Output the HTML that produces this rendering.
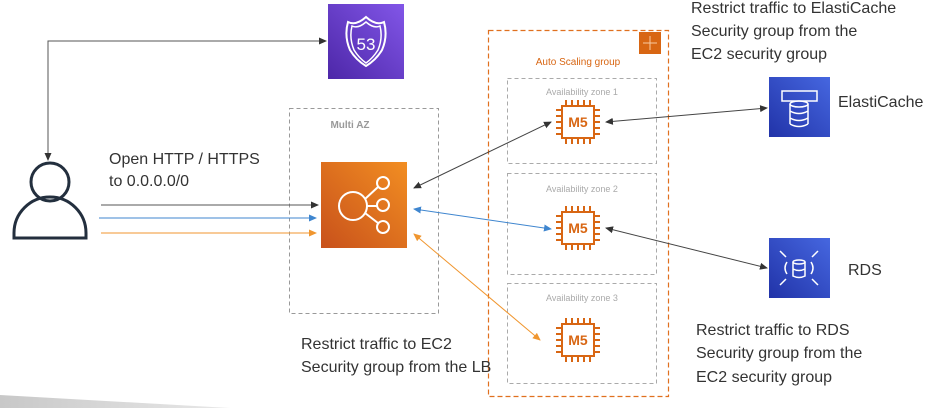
<!DOCTYPE html>
<html><head><meta charset="utf-8"><style>
body{margin:0;background:#fff;}
svg{display:block;font-family:"Liberation Sans",sans-serif;}
</style></head><body>
<svg width="929" height="408" viewBox="0 0 929 408" xmlns="http://www.w3.org/2000/svg">
<defs>
<marker id="ad" markerWidth="8" markerHeight="8" refX="7" refY="4" orient="auto" markerUnits="userSpaceOnUse"><path d="M0,0.5 L8,4 L0,7.5z" fill="#333"/></marker>
<marker id="ab" markerWidth="8" markerHeight="8" refX="7" refY="4" orient="auto" markerUnits="userSpaceOnUse"><path d="M0,0.5 L8,4 L0,7.5z" fill="#3f86cf"/></marker>
<marker id="ao" markerWidth="8" markerHeight="8" refX="7" refY="4" orient="auto" markerUnits="userSpaceOnUse"><path d="M0,0.5 L8,4 L0,7.5z" fill="#f0962f"/></marker>
<marker id="sd" markerWidth="8" markerHeight="8" refX="1" refY="4" orient="auto" markerUnits="userSpaceOnUse"><path d="M8,0.5 L0,4 L8,7.5z" fill="#333"/></marker>
<marker id="sb" markerWidth="8" markerHeight="8" refX="1" refY="4" orient="auto" markerUnits="userSpaceOnUse"><path d="M8,0.5 L0,4 L8,7.5z" fill="#3f86cf"/></marker>
<marker id="so" markerWidth="8" markerHeight="8" refX="1" refY="4" orient="auto" markerUnits="userSpaceOnUse"><path d="M8,0.5 L0,4 L8,7.5z" fill="#f0962f"/></marker>
<linearGradient id="gp" x1="0" y1="1" x2="1" y2="0"><stop offset="0" stop-color="#4d27a8"/><stop offset="1" stop-color="#8256e8"/></linearGradient>
<linearGradient id="go" x1="0" y1="1" x2="1" y2="0"><stop offset="0" stop-color="#c8511b"/><stop offset="1" stop-color="#f28e22"/></linearGradient>
<linearGradient id="gb" x1="0" y1="1" x2="1" y2="0"><stop offset="0" stop-color="#2133a8"/><stop offset="1" stop-color="#4667e0"/></linearGradient>
<linearGradient id="gs" x1="0" y1="0" x2="1" y2="0"><stop offset="0" stop-color="#c8c8c8"/><stop offset="1" stop-color="#e8e8e8"/></linearGradient>
<g id="chip" fill="none" stroke="#d86613" stroke-width="2">
<rect x="-16" y="-16" width="32" height="32"/>
<path d="M-12,-16v-6M-6,-16v-6M0,-16v-6M6,-16v-6M12,-16v-6M-12,16v6M-6,16v6M0,16v6M6,16v6M12,16v6M-16,-12h-6M-16,-6h-6M-16,0h-6M-16,6h-6M-16,12h-6M16,-12h6M16,-6h6M16,0h6M16,6h6M16,12h6"/>
</g>
</defs>
<!-- shadow -->
<polygon points="0,395 230,408 0,408" fill="url(#gs)"/>
<!-- Route 53 -->
<rect x="328" y="4" width="76" height="75" fill="url(#gp)"/>
<path d="M348,22 q8,4 18,-5 q10,9 18,5 q4,14 -2,28 q-6,10 -16,16 q-10,-6 -16,-16 q-6,-14 -2,-28z" fill="none" stroke="#fff" stroke-width="2"/>
<path d="M352,26 q6,3 14,-4 q8,7 14,4 q3,12 -2,24 q-5,8 -12,13 q-7,-5 -12,-13 q-5,-12 -2,-24z" fill="none" stroke="#fff" stroke-width="1.5"/>
<text x="366" y="50" font-size="17" fill="#fff" text-anchor="middle">53</text>
<!-- Multi AZ -->
<rect x="289.5" y="108.5" width="149" height="205" fill="none" stroke="#999" stroke-dasharray="4,3"/>
<text x="350" y="128" font-size="10" font-weight="bold" fill="#999" text-anchor="middle">Multi AZ</text>
<!-- ELB -->
<rect x="321" y="162" width="86" height="86" fill="url(#go)"/>
<g fill="none" stroke="#fff" stroke-width="2"><circle cx="353" cy="206" r="14"/><circle cx="383" cy="183" r="6"/><circle cx="383" cy="205" r="6"/><circle cx="383" cy="227" r="6"/><path d="M365,199 L378,187 M367,206 H377 M365,213 L378,223"/></g>
<!-- ASG -->
<rect x="488.5" y="30.5" width="180" height="366" fill="none" stroke="#e0701f" stroke-width="1.2" stroke-dasharray="5,3"/>
<rect x="639" y="32" width="22" height="22" fill="#d86613"/>
<path d="M650,36v14M643,43h14" stroke="#f8c9a0" stroke-width="1"/>
<text x="578" y="65" font-size="10" fill="#d86613" text-anchor="middle">Auto Scaling group</text>
<g fill="none" stroke="#aaa" stroke-dasharray="4,3"><rect x="507.5" y="78.5" width="149" height="85"/><rect x="507.5" y="173.5" width="149" height="101"/><rect x="507.5" y="283.5" width="149" height="100"/></g>
<g font-size="9" fill="#aaa" text-anchor="middle"><text x="582" y="95">Availability zone 1</text><text x="582" y="192">Availability zone 2</text><text x="582" y="301">Availability zone 3</text></g>
<use href="#chip" x="578" y="122"/><use href="#chip" x="578" y="228"/><use href="#chip" x="578" y="340"/>
<g font-size="14" font-weight="bold" fill="#d86613" text-anchor="middle"><text x="578" y="127">M5</text><text x="578" y="233">M5</text><text x="578" y="345">M5</text></g>
<!-- ElastiCache / RDS -->
<rect x="769" y="77" width="61" height="60" fill="url(#gb)"/>
<g fill="none" stroke="#fff" stroke-width="1.5"><rect x="782" y="91" width="35" height="10"/><ellipse cx="799" cy="104" rx="9" ry="3"/><path d="M790,104v20M808,104v20M790,111q9,5 18,0M790,118q9,5 18,0M790,124q9,5 18,0"/></g>
<rect x="769" y="238" width="61" height="60" fill="url(#gb)"/>
<g fill="none" stroke="#fff" stroke-width="1.5"><ellipse cx="799" cy="262" rx="6" ry="2"/><path d="M793,262v14q6,3 12,0v-14M793,269q6,3 12,0M787,262q-4,6 0,12M811,262q4,6 0,12M780,251l6,6M818,251l-6,6M780,285l6,-6M818,285l-6,-6"/></g>
<text x="838" y="107" font-size="16" fill="#333">ElastiCache</text>
<text x="848" y="275" font-size="16" fill="#333">RDS</text>
<!-- user -->
<g fill="none" stroke="#232f3e" stroke-width="3"><circle cx="50" cy="182" r="19"/><path d="M14,238 v-5 a36,36 0 0 1 72,0 v5 z"/></g>
<!-- connectors -->
<path d="M48,160 V41 H326" fill="none" stroke="#555" stroke-width="1" marker-start="url(#sd)" marker-end="url(#ad)"/>
<line x1="101" y1="205" x2="318" y2="205" stroke="#555" marker-end="url(#ad)"/>
<line x1="99" y1="218" x2="316" y2="218" stroke="#3f86cf" marker-end="url(#ab)"/>
<line x1="101" y1="233" x2="316" y2="233" stroke="#f0962f" marker-end="url(#ao)"/>
<line x1="414" y1="188" x2="551" y2="122" stroke="#444" marker-start="url(#sd)" marker-end="url(#ad)"/>
<line x1="414" y1="209" x2="551" y2="229" stroke="#3f86cf" marker-start="url(#sb)" marker-end="url(#ab)"/>
<line x1="414" y1="234" x2="540" y2="340" stroke="#f0962f" marker-start="url(#so)" marker-end="url(#ao)"/>
<line x1="606" y1="122" x2="767" y2="108" stroke="#444" marker-start="url(#sd)" marker-end="url(#ad)"/>
<line x1="606" y1="228" x2="767" y2="268" stroke="#444" marker-start="url(#sd)" marker-end="url(#ad)"/>
<!-- texts -->
<g font-size="16" fill="#333">
<text x="109" y="164">Open HTTP / HTTPS</text><text x="109" y="186">to 0.0.0.0/0</text>
<text x="301" y="349">Restrict traffic to EC2</text><text x="301" y="372">Security group from the LB</text>
<text x="691" y="13">Restrict traffic to ElastiCache</text><text x="691" y="36">Security group from the</text><text x="691" y="59">EC2 security group</text>
<text x="696" y="335">Restrict traffic to RDS</text><text x="696" y="358">Security group from the</text><text x="696" y="382">EC2 security group</text>
</g>
</svg>
</body></html>
